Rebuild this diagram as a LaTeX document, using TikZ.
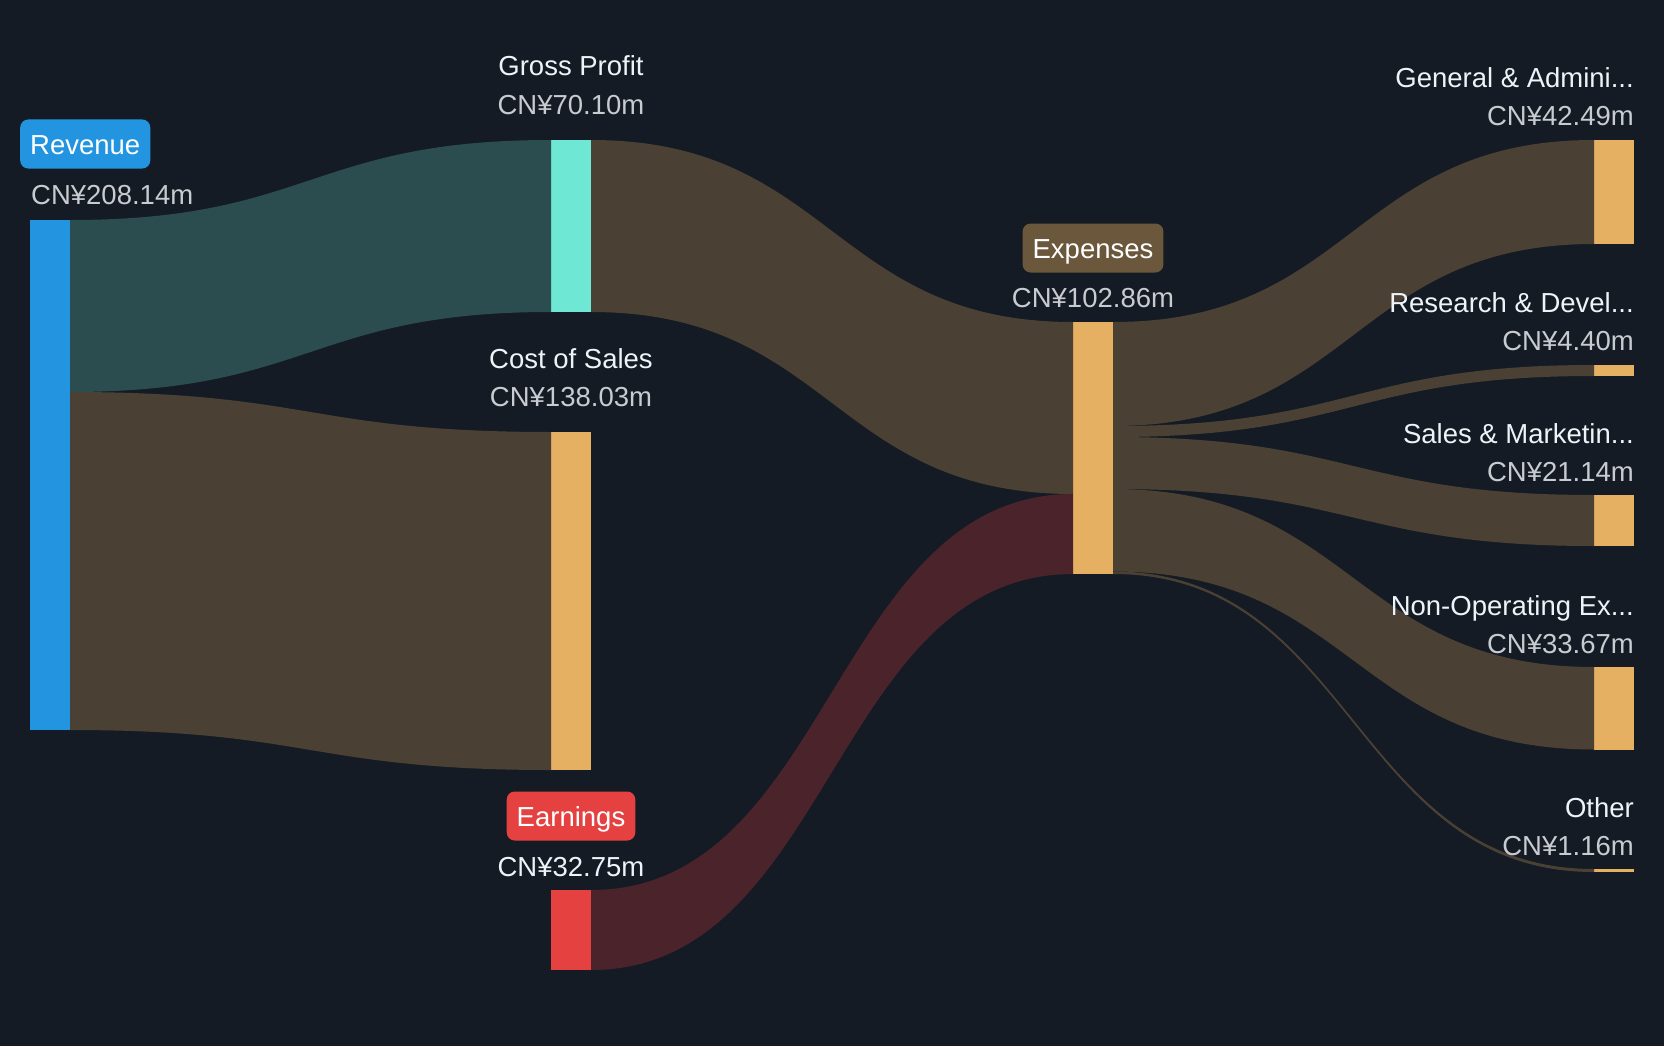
\documentclass[tikz,border=0pt]{standalone}
\usepackage{fontspec}
\setmainfont{Liberation Sans}
\usetikzlibrary{positioning,calc}
\definecolor{bg}{HTML}{151B24}
\definecolor{labelwhite}{HTML}{EEF3F8}
\definecolor{valgrey}{HTML}{C8CBD0}
\definecolor{revblue}{HTML}{2394DF}
\definecolor{gpteal}{HTML}{6FE7D5}
\definecolor{costgold}{HTML}{E5B062}
\definecolor{earnred}{HTML}{E54141}
\definecolor{expbox}{HTML}{6B573B}
\definecolor{tealflow}{HTML}{2C4D50}
\definecolor{brownflow}{HTML}{4A4034}
\definecolor{redflow}{HTML}{4B242B}

\begin{document}
\begin{tikzpicture}[x=1pt,y=-1pt,
  bar/.style={inner sep=0pt,outer sep=0pt,minimum width=40pt},
  lbl/.style={inner sep=0pt,text depth=0pt,text=labelwhite,font=\fontsize{27.5}{30}\selectfont},
  val/.style={lbl,text=valgrey},
  tag/.style={lbl,text=white,rounded corners=8pt,inner xsep=10pt,text height=20pt,minimum height=49pt}]
\fill[bg] (0,0) rectangle (1664,1046);

% bars
\node[bar,fill=revblue,minimum height=510pt] (rev) at (50,475) {};
\node[bar,fill=gpteal,minimum height=172pt] (gp) at (571,226) {};
\node[bar,fill=costgold,minimum height=338pt] (cos) at (571,601) {};
\node[bar,fill=earnred,minimum height=80pt] (earn) at (571,930) {};
\node[bar,fill=costgold,minimum height=252pt] (exp) at (1093,448) {};
\node[bar,fill=costgold,minimum height=104pt] (ga) at (1614,192) {};
\node[bar,fill=costgold,minimum height=11pt] (rd) at (1614,370.5) {};
\node[bar,fill=costgold,minimum height=51pt] (sm) at (1614,520.5) {};
\node[bar,fill=costgold,minimum height=82.5pt] (nop) at (1614,708.25) {};
\node[bar,fill=costgold,minimum height=3pt] (oth) at (1614,870.5) {};

% split points
\coordinate (revsplit) at ($(rev.north east)+(0,172)$);
\coordinate (expin) at ($(exp.north west)+(0,172)$);
\coordinate (exp1) at ($(exp.north east)+(0,104)$);
\coordinate (exp2) at ($(exp.north east)+(0,115)$);
\coordinate (exp3) at ($(exp.north east)+(0,167)$);
\coordinate (exp4) at ($(exp.north east)+(0,249.5)$);

% flows
\fill[tealflow] (rev.north east) .. controls +(240,0) and +(-240,0) .. (gp.north west)
  -- (gp.south west) .. controls +(-240,0) and +(240,0) .. (revsplit) -- cycle;
\fill[brownflow] (revsplit) .. controls +(240,0) and +(-240,0) .. (cos.north west)
  -- (cos.south west) .. controls +(-240,0) and +(240,0) .. (rev.south east) -- cycle;
\fill[brownflow] (gp.north east) .. controls +(240,0) and +(-240,0) .. (exp.north west)
  -- (expin) .. controls +(-240,0) and +(240,0) .. (gp.south east) -- cycle;
\fill[redflow] (earn.north east) .. controls +(240,0) and +(-240,0) .. (expin)
  -- (exp.south west) .. controls +(-240,0) and +(240,0) .. (earn.south east) -- cycle;
\fill[brownflow] (exp.north east) .. controls +(240,0) and +(-240,0) .. (ga.north west)
  -- (ga.south west) .. controls +(-240,0) and +(240,0) .. (exp1) -- cycle;
\fill[brownflow] (exp1) .. controls +(240,0) and +(-240,0) .. (rd.north west)
  -- (rd.south west) .. controls +(-240,0) and +(240,0) .. (exp2) -- cycle;
\fill[brownflow] (exp2) .. controls +(240,0) and +(-240,0) .. (sm.north west)
  -- (sm.south west) .. controls +(-240,0) and +(240,0) .. (exp3) -- cycle;
\fill[brownflow] (exp3) .. controls +(240,0) and +(-240,0) .. (nop.north west)
  -- (nop.south west) .. controls +(-240,0) and +(240,0) .. (exp4) -- cycle;
\fill[brownflow] (exp4) .. controls +(240,0) and +(-240,0) .. (oth.north west)
  -- (oth.south west) .. controls +(-240,0) and +(240,0) .. (exp.south east) -- cycle;

% left and middle labels
\node[val,above=16pt of rev.north west,anchor=base west,xshift=1pt] (revv) {CN¥208.14m};
\node[tag,fill=revblue,above=50pt of revv.base west,anchor=base west,xshift=-11pt] (revl) {Revenue};
\node[val,above=26pt of gp.north,anchor=base] (gpv) {CN¥70.10m};
\node[lbl,above=38pt of gpv.base,anchor=base] (gpl) {Gross Profit};
\node[val,above=26pt of cos.north,anchor=base] (cosv) {CN¥138.03m};
\node[lbl,above=38pt of cosv.base,anchor=base] (cosl) {Cost of Sales};
\node[lbl,above=14pt of earn.north,anchor=base] (earnv) {CN¥32.75m};
\node[tag,fill=earnred,above=50pt of earnv.base,anchor=base] (earnl) {Earnings};
\node[val,above=15pt of exp.north,anchor=base] (expv) {CN¥102.86m};
\node[tag,fill=expbox,above=49pt of expv.base,anchor=base] (expl) {Expenses};

% right labels
\node[val,above=14pt of ga.north east,anchor=base east] (gav) {CN¥42.49m};
\node[lbl,above=38pt of gav.base east,anchor=base east] (gal) {General \& Admini...};
\node[val,above=15pt of rd.north east,anchor=base east] (rdv) {CN¥4.40m};
\node[lbl,above=38pt of rdv.base east,anchor=base east] (rdl) {Research \& Devel...};
\node[val,above=14pt of sm.north east,anchor=base east] (smv) {CN¥21.14m};
\node[lbl,above=38pt of smv.base east,anchor=base east] (sml) {Sales \& Marketin...};
\node[val,above=14pt of nop.north east,anchor=base east] (nopv) {CN¥33.67m};
\node[lbl,above=38pt of nopv.base east,anchor=base east] (nopl) {Non-Operating Ex...};
\node[val,above=14pt of oth.north east,anchor=base east] (othv) {CN¥1.16m};
\node[lbl,above=38pt of othv.base east,anchor=base east] (othl) {Other};
\end{tikzpicture}
\end{document}
